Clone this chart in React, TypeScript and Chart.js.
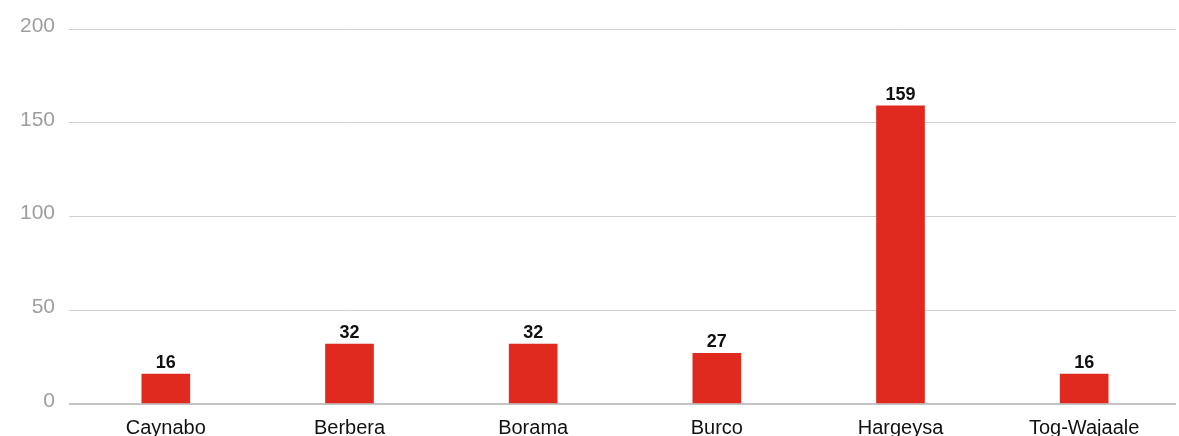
import React, { useEffect, useRef } from "react";
import { Chart, registerables } from "chart.js";

Chart.register(...registerables);

const categories = ["Caynabo", "Berbera", "Borama", "Burco", "Hargeysa", "Tog-Wajaale"];
const values = [16, 32, 32, 27, 159, 16];
const yTicks = [0, 50, 100, 150, 200];

const valueLabels = {
  id: "valueLabels",
  afterDatasetsDraw(chart: any) {
    const ctx = chart.ctx;
    const meta = chart.getDatasetMeta(0);
    ctx.save();
    ctx.font = "bold 18px 'Liberation Sans', Arial, sans-serif";
    ctx.fillStyle = "#111";
    ctx.textAlign = "center";
    ctx.textBaseline = "alphabetic";
    meta.data.forEach((bar: any, i: number) => {
      ctx.fillText(String(values[i]), bar.x, bar.y - 6);
    });
    ctx.restore();
  },
};

export default function App() {
  const ref = useRef<HTMLCanvasElement>(null);
  useEffect(() => {
    if (!ref.current) return;
    const chart = new Chart(ref.current, {
      type: "bar",
      data: {
        labels: categories,
        datasets: [
          {
            data: values,
            backgroundColor: "#e0291f",
            barThickness: 48,
          },
        ],
      },
      options: {
        animation: false,
        responsive: false,
        maintainAspectRatio: false,
        layout: { padding: { top: 29, right: 3, left: 0, bottom: 0 } },
        plugins: { legend: { display: false }, tooltip: { enabled: false } },
        scales: {
          x: {
            grid: { display: false },
            border: { display: false },
            ticks: {
              color: "#111",
              font: { family: "'Liberation Sans', Arial, sans-serif", size: 20 },
              padding: 4,
            },
            afterFit(scale: any) {
              scale.height = 32;
            },
          },
          y: {
            min: 0,
            max: 200,
            afterBuildTicks(scale: any) {
              scale.ticks = yTicks.map((v) => ({ value: v }));
            },
            border: { display: false },
            grid: {
              color: (c: any) => (c.tick && c.tick.value === 0 ? "#c4c4c4" : "#d0d0d0"),
              lineWidth: (c: any) => (c.tick && c.tick.value === 0 ? 2 : 1),
              tickLength: 5,
              drawTicks: true,
            },
            ticks: {
              color: "#9e9e9e",
              font: { family: "'Liberation Sans', Arial, sans-serif", size: 21 },
              padding: 14,
              labelOffset: -3,
            },
            afterFit(scale: any) {
              scale.width = 74;
              scale.paddingTop = 0;
              scale.paddingBottom = 0;
            },
          },
        },
      },
      plugins: [valueLabels],
    });
    return () => chart.destroy();
  }, []);
  return (
    <div style={{ position: "fixed", left: 0, top: 0, width: 1179, height: 436, background: "#fff" }}>
      <canvas ref={ref} width={1179} height={436} style={{ width: 1179, height: 436 }} />
    </div>
  );
}
